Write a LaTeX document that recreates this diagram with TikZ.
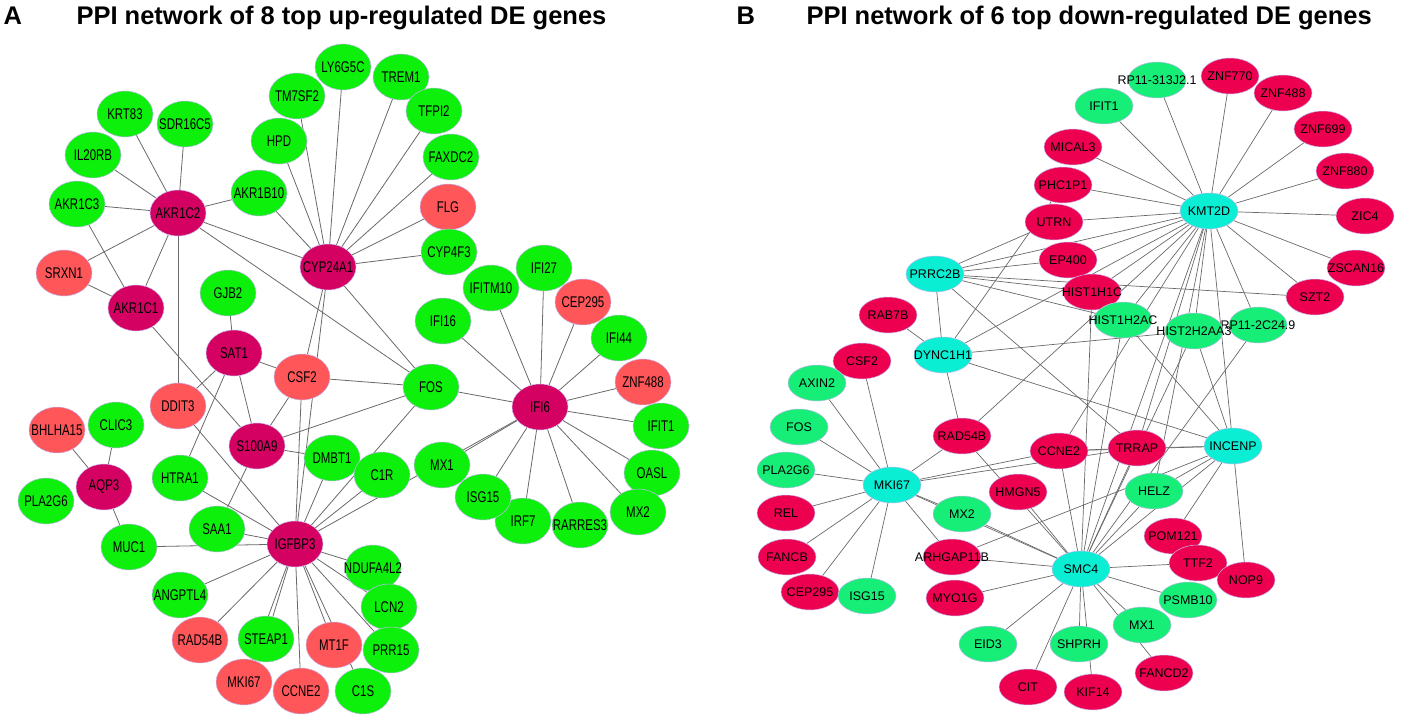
\documentclass[tikz,border=0pt]{standalone}
\usepackage{fontspec}
\setmainfont{Liberation Sans}
\newfontfamily\narrowfont[FakeStretch=0.74]{Liberation Sans}
\usetikzlibrary{shapes.geometric}

\pgfdeclarelayer{back}
\pgfsetlayers{back,main}

\definecolor{hubmag}{RGB}{212,0,98}
\definecolor{upgreen}{RGB}{12,240,12}
\definecolor{salmon}{RGB}{255,86,90}
\definecolor{downred}{RGB}{238,0,80}
\definecolor{mint}{RGB}{22,238,120}
\definecolor{hubcyan}{RGB}{10,238,212}
\definecolor{rimline}{RGB}{196,186,240}
\definecolor{linkgray}{RGB}{105,105,105}

% label of fixed width zero, so the ellipse keeps its own size
\newcommand{\gl}[1]{\makebox[0pt]{#1}}

\begin{document}
\begin{tikzpicture}[x=1pt,y=-1pt,
    gene/.style={ellipse,inner sep=0pt,draw=rimline,line width=0.5pt},
    geneA/.style={gene,minimum width=56pt,minimum height=46pt,
      font=\narrowfont\fontsize{15.5}{16}\selectfont},
    geneB/.style={gene,minimum width=58pt,minimum height=36pt,
      font=\fontsize{12.5}{13}\selectfont},
    hubA/.style={geneA,fill=hubmag},
    grnA/.style={geneA,fill=upgreen},
    redA/.style={geneA,fill=salmon},
    hubB/.style={geneB,fill=hubcyan},
    grnB/.style={geneB,fill=mint},
    redB/.style={geneB,fill=downred},
    title/.style={anchor=base west,font=\bfseries\fontsize{25.5}{28}\selectfont},
    link/.style={draw=linkgray,line width=0.8pt}]
  \useasboundingbox (0,0) rectangle (1411,725);

  % titles
  \node[title] (tagA) at (0,25) {A};
  \node[title] (titleA) at (73,25) {PPI network of 8 top up-regulated DE genes};
  \node[title] (tagB) at (733,25) {B};
  \node[title] (titleB) at (803,25) {PPI network of 6 top down-regulated DE genes};

  % panel A: up-regulated
  \foreach \n/\x/\y in {AKR1C2/178/213, AKR1C1/136/308, CYP24A1/328/267,
      SAT1/234/353, S100A9/257/446, AQP3/104/487, IGFBP3/295/544, IFI6/540/407}
    \node[hubA] (a\n) at (\x,\y) {\gl{\n}};
  \foreach \n/\x/\y in {SRXN1/64/273, FLG/448/207, CEP295/583/302, ZNF488/643/382,
      CSF2/302/377, DDIT3/178/406, BHLHA15/57/430, RAD54B/200/640,
      MT1F/334/645, MKI67/244/682, CCNE2/301/691}
    \node[redA] (a\n) at (\x,\y) {\gl{\n}};
  \foreach \n/\x/\y in {KRT83/125/114, SDR16C5/185/124, IL20RB/93/155,
      AKR1C3/77/204, AKR1B10/259/193, TM7SF2/297/96, HPD/279/141,
      LY6G5C/343/67, TREM1/401/77, TFPI2/434/111, FAXDC2/451/157,
      CYP4F3/449/252, IFI27/544/268, IFITM10/491/288, IFI16/443/321,
      IFI44/619/338, GJB2/228/293, FOS/431/387, IFIT1/661/426,
      OASL/652/473, MX2/638/512, RARRES3/580/525, IRF7/523/521,
      ISG15/483/497, MX1/442/465, DMBT1/332/458, C1R/382/475,
      CLIC3/116/425, PLA2G6/46/501, HTRA1/180/478, SAA1/217/529,
      MUC1/129/547, ANGPTL4/180/595, STEAP1/266/639, NDUFA4L2/373/568,
      LCN2/389/607, PRR15/391/650, C1S/363/691}
    \node[grnA] (a\n) at (\x,\y) {\gl{\n}};

  \begin{pgfonlayer}{back}
    \foreach \u/\v in {AKR1C2/KRT83, AKR1C2/SDR16C5, AKR1C2/IL20RB,
        AKR1C2/AKR1C3, AKR1C2/AKR1B10, AKR1C2/SRXN1, AKR1C2/AKR1C1,
        AKR1C2/CYP24A1, AKR1C2/DDIT3, AKR1C2/FOS,
        AKR1C1/AKR1C3, AKR1C1/SRXN1, AKR1C1/S100A9,
        CYP24A1/HPD, CYP24A1/TM7SF2, CYP24A1/LY6G5C, CYP24A1/TREM1,
        CYP24A1/TFPI2, CYP24A1/FAXDC2, CYP24A1/FLG, CYP24A1/CYP4F3,
        CYP24A1/AKR1B10, CYP24A1/CSF2, CYP24A1/IGFBP3, CYP24A1/FOS,
        SAT1/GJB2, SAT1/CSF2, SAT1/S100A9, SAT1/DDIT3, SAT1/HTRA1,
        CSF2/FOS, CSF2/S100A9, CSF2/IGFBP3,
        S100A9/FOS, S100A9/DMBT1, S100A9/SAA1,
        AQP3/BHLHA15, AQP3/CLIC3, AQP3/MUC1,
        IGFBP3/DDIT3, IGFBP3/HTRA1, IGFBP3/SAA1, IGFBP3/MUC1,
        IGFBP3/ANGPTL4, IGFBP3/RAD54B, IGFBP3/STEAP1, IGFBP3/MKI67,
        IGFBP3/CCNE2, IGFBP3/MT1F, IGFBP3/C1S, IGFBP3/NDUFA4L2,
        IGFBP3/LCN2, IGFBP3/PRR15, IGFBP3/C1R, IGFBP3/DMBT1,
        IGFBP3/IFI6, IGFBP3/FOS,
        IFI6/FOS, IFI6/IFI16, IFI6/IFITM10, IFI6/IFI27, IFI6/CEP295,
        IFI6/IFI44, IFI6/ZNF488, IFI6/IFIT1, IFI6/OASL, IFI6/MX2,
        IFI6/RARRES3, IFI6/IRF7, IFI6/ISG15, IFI6/MX1}
      \draw[link] (a\u) -- (a\v);
  \end{pgfonlayer}

  % panel B: down-regulated
  \foreach \n/\x/\y in {KMT2D/1209/211, PRRC2B/935/274, DYNC1H1/943/355,
      MKI67/892/485, INCENP/1233/446, SMC4/1081/569}
    \node[hubB] (b\n) at (\x,\y) {\gl{\n}};
  \foreach \n/\x/\y in {ZNF770/1230/76, ZNF488/1283/93, ZNF699/1323/129,
      ZNF880/1345/171, ZIC4/1365/216, ZSCAN16/1356/268, SZT2/1315/297,
      MICAL3/1073/147, PHC1P1/1063/185, UTRN/1054/222, EP400/1068/260,
      HIST1H1C/1092/292, RAB7B/888/315, CSF2/862/361, REL/786/513,
      FANCB/787/557, CEP295/810/592, RAD54B/962/436, CCNE2/1059/451,
      TRRAP/1137/448, HMGN5/1018/492, ARHGAP11B/952/557, MYO1G/955/598,
      POM121/1173/536, TTF2/1198/563, NOP9/1246/580, CIT/1028/687,
      KIF14/1093/692, FANCD2/1164/673}
    \node[redB] (b\n) at (\x,\y) {\gl{\n}};
  \node[grnB] (bRPa) at (1157,80) {\gl{RP11-313J2.1}};
  \node[grnB] (bRPb) at (1258,325) {\gl{RP11-2C24.9}};
  \foreach \n/\x/\y in {IFIT1/1104/106, HIST1H2AC/1123/320,
      HIST2H2AA3/1194/331, AXIN2/817/383, FOS/799/427, PLA2G6/786/470,
      ISG15/867/596, MX2/962/514, HELZ/1154/491, PSMB10/1188/600,
      MX1/1142/625, EID3/988/644, SHPRH/1079/644}
    \node[grnB] (b\n) at (\x,\y) {\gl{\n}};

  \begin{pgfonlayer}{back}
    \foreach \u/\v in {KMT2D/IFIT1, KMT2D/RPa, KMT2D/ZNF770, KMT2D/ZNF488,
        KMT2D/ZNF699, KMT2D/ZNF880, KMT2D/ZIC4, KMT2D/ZSCAN16, KMT2D/SZT2,
        KMT2D/MICAL3, KMT2D/PHC1P1, KMT2D/UTRN, KMT2D/EP400,
        KMT2D/HIST1H1C, KMT2D/HIST1H2AC, KMT2D/HIST2H2AA3, KMT2D/RPb,
        KMT2D/PRRC2B, KMT2D/DYNC1H1, KMT2D/TRRAP, KMT2D/CCNE2,
        KMT2D/HELZ, KMT2D/SMC4, KMT2D/INCENP, KMT2D/RAD54B,
        PRRC2B/UTRN, PRRC2B/EP400, PRRC2B/HIST1H1C, PRRC2B/SZT2,
        PRRC2B/TRRAP, PRRC2B/DYNC1H1, PRRC2B/HIST1H2AC,
        DYNC1H1/RAB7B, DYNC1H1/PHC1P1, DYNC1H1/HIST2H2AA3,
        DYNC1H1/INCENP, DYNC1H1/RAD54B,
        MKI67/CSF2, MKI67/AXIN2, MKI67/FOS, MKI67/PLA2G6, MKI67/REL,
        MKI67/FANCB, MKI67/CEP295, MKI67/ISG15, MKI67/ARHGAP11B,
        MKI67/MX2, MKI67/RAD54B, MKI67/CCNE2, MKI67/TRRAP, MKI67/SMC4,
        SMC4/HMGN5, SMC4/RAD54B, SMC4/MX2, SMC4/ARHGAP11B, SMC4/MYO1G,
        SMC4/EID3, SMC4/CIT, SMC4/SHPRH, SMC4/KIF14, SMC4/MX1,
        SMC4/FANCD2, SMC4/PSMB10, SMC4/TTF2, SMC4/HELZ, SMC4/INCENP,
        SMC4/TRRAP, SMC4/CCNE2, SMC4/HIST1H1C, SMC4/HIST1H2AC,
        SMC4/HIST2H2AA3, SMC4/RPb,
        INCENP/TRRAP, INCENP/HELZ, INCENP/POM121, INCENP/NOP9,
        INCENP/HIST1H2AC, INCENP/HIST2H2AA3, INCENP/ARHGAP11B,
        INCENP/CCNE2, CCNE2/TRRAP}
      \draw[link, line width=0.7pt] (b\u) -- (b\v);
  \end{pgfonlayer}
\end{tikzpicture}
\end{document}
